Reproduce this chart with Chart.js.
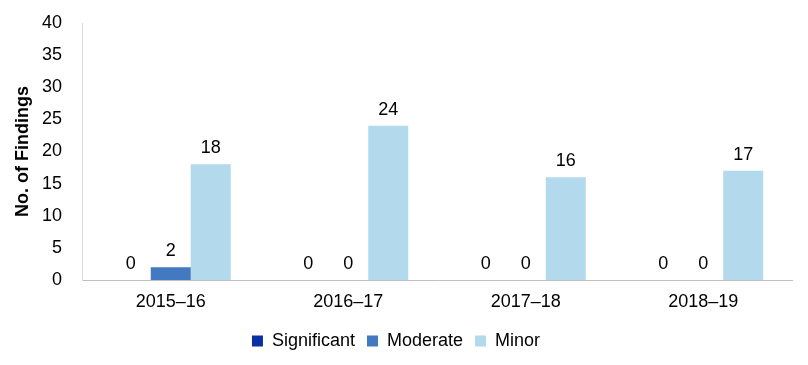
<!DOCTYPE html>
<html>
<head>
<meta charset="utf-8">
<script src="https://cdn.jsdelivr.net/npm/chart.js@4"></script>
<style>
  body { margin: 0; background: #fff; }
  #wrap { width: 808px; height: 365px; }
</style>
</head>
<body>
<div id="wrap"><canvas id="grafico"></canvas></div>
<script>
const years = ["2015–16", "2016–17", "2017–18", "2018–19"];
const significant = [0, 0, 0, 0];
const moderate = [2, 0, 0, 0];
const minor = [18, 24, 16, 17];

// etiquetas de valor encima de cada barra
const etiquetas = {
    id: "etiquetas",
    afterDatasetsDraw(chart) {
        const ctx = chart.ctx;
        ctx.save();
        ctx.font = "18px 'Liberation Sans', Arial, sans-serif";
        ctx.fillStyle = "#000";
        ctx.textAlign = "center";
        ctx.textBaseline = "alphabetic";
        chart.data.datasets.forEach((ds, i) => {
            chart.getDatasetMeta(i).data.forEach((bar, j) => {
                ctx.fillText(ds.data[j], bar.x, bar.y - 11);
            });
        });
        ctx.restore();
    }
};

Chart.defaults.font.family = "'Liberation Sans', Arial, sans-serif";
Chart.defaults.color = "#000";

new Chart(document.getElementById("grafico"), {
    type: "bar",
    data: {
        labels: years,
        datasets: [
            { label: "Significant", data: significant, backgroundColor: "#0b2fa3" },
            { label: "Moderate", data: moderate, backgroundColor: "#4279c0" },
            { label: "Minor", data: minor, backgroundColor: "#b3d9ec" }
        ]
    },
    options: {
        responsive: true,
        maintainAspectRatio: false,
        animation: false,
        layout: { padding: { top: 0, right: 16, left: 0, bottom: 5 } },
        datasets: {
            bar: { categoryPercentage: 0.676, barPercentage: 1 }
        },
        plugins: {
            legend: {
                position: "bottom",
                labels: { boxWidth: 11, boxHeight: 11, font: { size: 18 }, padding: 12 }
            },
            tooltip: { enabled: false }
        },
        scales: {
            x: {
                grid: { display: false, drawTicks: false },
                border: { color: "#bfbfbf" },
                ticks: { font: { size: 18 }, padding: 11 },
                afterFit: function (scale) { scale.height = 40; }
            },
            y: {
                min: 0,
                max: 40,
                grid: { display: false, drawTicks: false },
                border: { color: "#d9d9d9" },
                ticks: { stepSize: 5, font: { size: 18 }, padding: 20 },
                title: { display: true, text: "No. of Findings", font: { size: 18, weight: "bold" }, padding: 12 },
                afterFit: function (scale) {
                    scale.width = 82;
                    scale.paddingTop = 23;
                }
            }
        }
    },
    plugins: [etiquetas]
});
</script>
</body>
</html>
